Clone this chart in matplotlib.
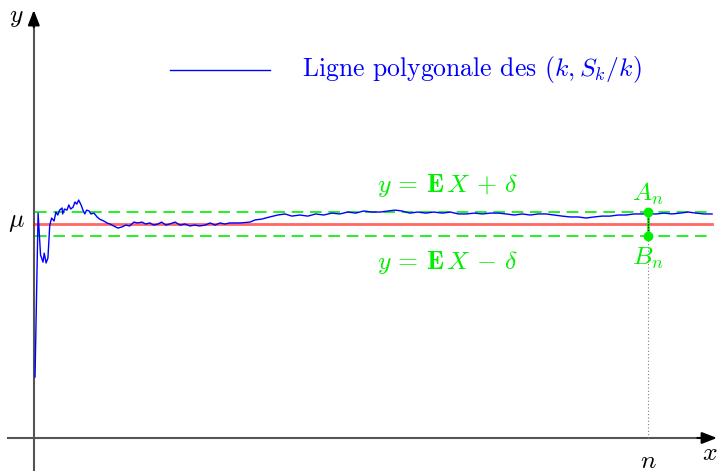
import matplotlib
matplotlib.use("Agg")
import matplotlib.pyplot as plt

plt.rcParams['font.family'] = 'serif'
plt.rcParams['font.serif'] = ['cmr10', 'DejaVu Serif']
plt.rcParams['mathtext.fontset'] = 'cm'
plt.rcParams['axes.formatter.use_mathtext'] = True

# moyennes empiriques S_k / k le long de la trajectoire
k_vals = [2, 7, 11, 15, 17, 20, 23, 26, 29, 33, 36, 39, 42, 46, 47, 50, 54, 57,
          60, 64, 67, 70, 73, 77, 80, 83, 86, 90, 93, 98, 103, 107, 114, 119,
          124, 130, 137, 143, 150, 156, 163, 169, 176, 182, 189, 195, 202, 208,
          215, 221, 230, 238, 246, 254, 262, 270, 279, 287, 295, 303, 311, 319,
          336, 352, 360, 371, 384, 397, 409, 420, 433, 446, 459, 472, 485, 498,
          511, 524, 537, 550, 564, 577, 588, 599, 612, 625, 638, 651, 665, 678,
          691, 704, 717, 730, 743, 756, 769, 782, 795, 808, 821, 834, 847, 860,
          873, 886, 899, 912, 925, 938, 951, 964, 977, 990, 1000, 1013, 1026,
          1039, 1052, 1065, 1078, 1091, 1104]
moyennes = [0.285, 1.051, 0.855, 0.822, 0.864, 0.818, 0.841, 0.995, 1.028,
            1.014, 1.056, 1.042, 1.065, 1.075, 1.047, 1.070, 1.065, 1.089,
            1.070, 1.079, 1.103, 1.093, 1.112, 1.089, 1.065, 1.047, 1.065,
            1.061, 1.047, 1.051, 1.033, 1.023, 1.014, 1.005, 1.000, 0.991,
            0.981, 0.986, 0.995, 0.991, 1.009, 1.005, 1.009, 1.000, 1.005,
            0.995, 1.000, 1.009, 0.995, 1.000, 1.009, 0.995, 1.000, 0.991,
            0.995, 0.991, 0.995, 1.005, 0.995, 1.005, 1.000, 1.005, 1.005,
            1.009, 1.019, 1.023, 1.033, 1.042, 1.047, 1.037, 1.042, 1.037,
            1.047, 1.042, 1.051, 1.047, 1.056, 1.051, 1.061, 1.056, 1.056,
            1.061, 1.065, 1.061, 1.051, 1.056, 1.051, 1.056, 1.051, 1.056,
            1.047, 1.047, 1.051, 1.047, 1.051, 1.051, 1.047, 1.042, 1.047,
            1.042, 1.047, 1.047, 1.042, 1.037, 1.033, 1.033, 1.028, 1.033,
            1.037, 1.037, 1.042, 1.042, 1.047, 1.047, 1.047, 1.047, 1.051,
            1.047, 1.051, 1.056, 1.051, 1.047, 1.047]

mu = 1.0
delta = 0.058
n = 1000
k_max = 1104

vert = '#00ee00'
fs = 18.5
fig = plt.figure(figsize=(7.17, 4.72), dpi=100)
ax = fig.add_axes([0, 0, 1, 1])
ax.set_xlim(-55, 1112)
ax.set_ylim(-0.159, 2.047)
ax.axis('off')

# axes avec fleches
ax.plot([-42, 1090], [0, 0], color='#555555', lw=1.5, zorder=2)
ax.plot([0, 0], [-0.15, 1.95], color='#555555', lw=1.5, zorder=2)
ax.annotate('', xy=(1112, 0), xytext=(1080, 0),
            arrowprops=dict(arrowstyle='-|>,head_length=0.9,head_width=0.35',
                            color='black', lw=1.5, shrinkA=0, shrinkB=0))
ax.annotate('', xy=(0, 2.0), xytext=(0, 1.92),
            arrowprops=dict(arrowstyle='-|>,head_length=0.9,head_width=0.35',
                            color='black', lw=1.5, shrinkA=0, shrinkB=0))
ax.text(-28, 1.965, r'$y$', fontsize=fs, ha='center', va='center')
ax.text(1100, -0.07, r'$x$', fontsize=fs, ha='center', va='center')
ax.text(-28, mu + 0.01, r'$\mu$', fontsize=fs, ha='center', va='center')

# droite y = mu et bande +/- delta
ax.plot([0, k_max], [mu, mu], color='red', alpha=0.6, lw=2, zorder=3)
for s in (1, -1):
    ax.plot([2, k_max], [mu + s * delta] * 2, color=vert, lw=1.2,
            dashes=(7, 4), zorder=3)

ax.plot(k_vals, moyennes, color='blue', lw=1, zorder=4)

ax.text(674, mu + delta + 0.12, r'$y\,=\,\mathbf{E}\,X\,+\,\delta$',
        color=vert, fontsize=fs, ha='center', va='center')
ax.text(674, mu - delta - 0.12, r'$y\,=\,\mathbf{E}\,X\,-\,\delta$',
        color=vert, fontsize=fs, ha='center', va='center')

# points A_n et B_n
ax.plot([n, n], [0, mu - delta], color='gray', lw=0.8, ls=(0, (1, 2)), zorder=2)
ax.plot([n, n], [mu - delta, mu + delta], color=vert, lw=1.8, zorder=5)
ax.plot([n, n], [mu - delta, mu + delta], color='black', lw=0.8,
        ls=(0, (1, 1.5)), zorder=6)
ax.plot([n, n], [mu + delta, mu - delta], 'o', color=vert, ms=6, zorder=7)
ax.text(n, mu + delta + 0.082, r'$A_n$', color=vert, fontsize=fs,
        ha='center', va='center')
ax.text(n, mu - delta - 0.1, r'$B_n$', color=vert, fontsize=fs,
        ha='center', va='center')
ax.text(n, -0.11, r'$n$', fontsize=fs, ha='center', va='center')

# legende
ax.plot([222, 384], [1.72, 1.72], color='blue', lw=1)
ax.text(436, 1.72, r'Ligne polygonale des $(k, S_k/k)$', color='blue',
        fontsize=fs, ha='left', va='center')

fig.savefig('out.png', dpi=100)
